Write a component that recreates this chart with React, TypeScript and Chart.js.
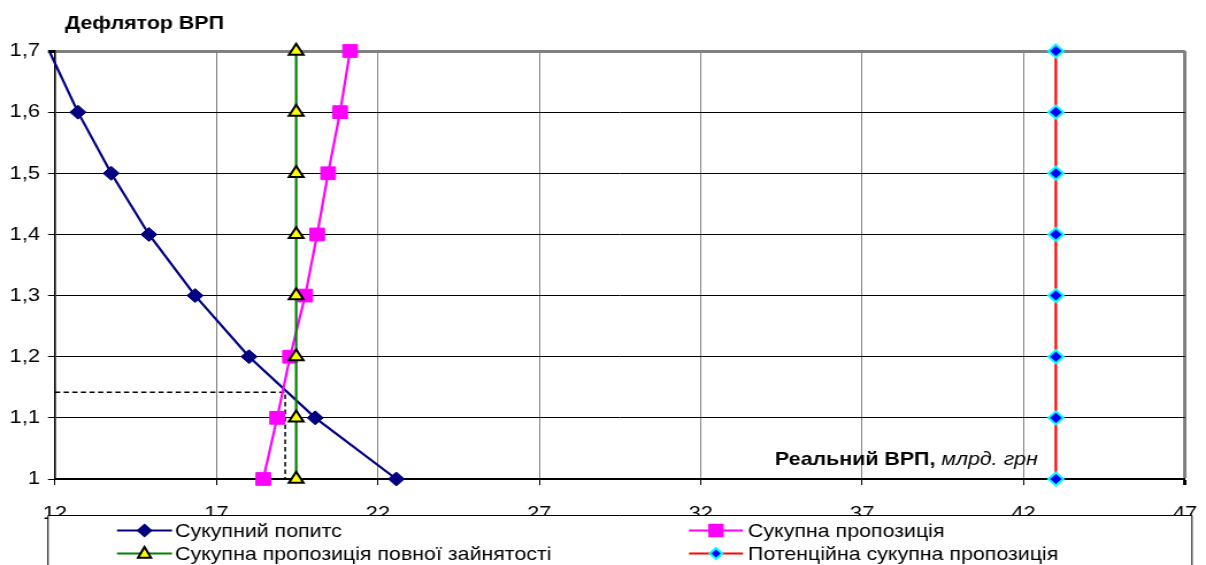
import React, { useEffect, useRef } from 'react';
import { Chart, registerables } from 'chart.js';

Chart.register(...registerables);

// ---- data ----
const priceLevels = [1.7, 1.6, 1.5, 1.4, 1.3, 1.2, 1.1, 1.0];
const aggregateDemand = [11.82, 12.71, 13.74, 14.91, 16.34, 18.01, 20.06, 22.57];
const aggregateSupply = [21.14, 20.83, 20.46, 20.12, 19.75, 19.28, 18.88, 18.45];
const fullEmploymentSupply = [19.47, 19.47, 19.47, 19.47, 19.47, 19.47, 19.47, 19.47];
const potentialSupply = [43.0, 43.0, 43.0, 43.0, 43.0, 43.0, 43.0, 43.0];
const equilibriumX = [12, 19.13, 19.13];
const equilibriumY = [1.142, 1.142, 1.0];
const xMin = 12;
const xMax = 47;
const xStep = 5;
const yMin = 1.0;
const yMax = 1.7;
const yStep = 0.1;
const seriesLabels = [
  'Сукупний попитс',
  'Сукупна пропозиція',
  'Сукупна пропозиція повної зайнятості',
  'Потенційна сукупна пропозиція',
];
const yAxisTitle = 'Дефлятор ВРП';
const xAxisTitleBold = 'Реальний ВРП,';
const xAxisTitleItalic = 'млрд. грн';

// ---- layout (output pixels) ----
const OUT_W = 1206;
const OUT_H = 565;
const IN_W = Math.round(OUT_W / 1.15);
const S = OUT_W / IN_W; // horizontal stretch of the original picture
const AREA_LEFT = 55;
const AREA_RIGHT = 1185;
const AREA_TOP = 51;
const AREA_BOTTOM = 479;
const FONT = '"Liberation Sans", Arial, sans-serif';
const FS = 19;
const FS_TEXT = 18.6;

const toPoints = (xs: number[], ys: number[]) => xs.map((x, i) => ({ x, y: ys[i] }));

function drawMarker(ctx: CanvasRenderingContext2D, kind: string, x: number, y: number) {
  ctx.save();
  if (kind === 'navyDiamond') {
    const r = 7;
    ctx.beginPath();
    ctx.moveTo(x, y - r); ctx.lineTo(x + r, y); ctx.lineTo(x, y + r); ctx.lineTo(x - r, y); ctx.closePath();
    ctx.fillStyle = '#000080'; ctx.fill();
  } else if (kind === 'square') {
    const h = 6.7;
    ctx.fillStyle = '#FF00FF';
    ctx.fillRect(x - h, y - h, 2 * h, 2 * h);
  } else if (kind === 'triangle') {
    const r = 6.5;
    ctx.beginPath();
    ctx.moveTo(x, y - r);
    ctx.lineTo(x + r * 0.866, y + r * 0.5 + 1);
    ctx.lineTo(x - r * 0.866, y + r * 0.5 + 1);
    ctx.closePath();
    ctx.fillStyle = '#FFFF00'; ctx.fill();
    ctx.strokeStyle = '#000'; ctx.lineWidth = 2; ctx.stroke();
  } else if (kind === 'cyanDiamond') {
    const r = 5.5;
    ctx.beginPath();
    ctx.moveTo(x, y - r); ctx.lineTo(x + r, y); ctx.lineTo(x, y + r); ctx.lineTo(x - r, y); ctx.closePath();
    ctx.fillStyle = '#0000FF'; ctx.fill();
    ctx.strokeStyle = '#00FFFF'; ctx.lineWidth = 2; ctx.stroke();
  }
  ctx.restore();
}

const decorPlugin = {
  id: 'decor',
  afterDraw(chart: any) {
    const ctx: CanvasRenderingContext2D = chart.ctx;
    ctx.save();
    // legend box
    const lx = 48 / S;
    const rx = 1192 / S;
    const ly = 515.5;
    ctx.fillStyle = '#fff';
    ctx.fillRect(lx, ly, rx - lx, OUT_H - ly + 5);
    ctx.strokeStyle = '#000';
    ctx.lineWidth = 1;
    ctx.beginPath();
    ctx.moveTo(lx, OUT_H + 5);
    ctx.lineTo(lx, ly);
    ctx.lineTo(rx, ly);
    ctx.lineTo(rx, OUT_H + 5);
    ctx.stroke();

    const entries = [
      { label: seriesLabels[0], color: '#000080', marker: 'navyDiamond', col: 0, row: 0 },
      { label: seriesLabels[1], color: '#FF00FF', marker: 'square', col: 1, row: 0 },
      { label: seriesLabels[2], color: '#008000', marker: 'triangle', col: 0, row: 1 },
      { label: seriesLabels[3], color: '#FF0000', marker: 'cyanDiamond', col: 1, row: 1 },
    ];
    const cols = [
      { x1: 117, x2: 172, tx: 175 },
      { x1: 689, x2: 743, tx: 748 },
    ];
    const rows = [530.5, 553.5];
    ctx.font = `${FS_TEXT}px ${FONT}`;
    ctx.textBaseline = 'middle';
    ctx.textAlign = 'left';
    entries.forEach((e) => {
      const c = cols[e.col];
      const y = rows[e.row];
      ctx.strokeStyle = e.color;
      ctx.lineWidth = 2.2;
      ctx.beginPath();
      ctx.moveTo(c.x1 / S, y);
      ctx.lineTo(c.x2 / S, y);
      ctx.stroke();
      drawMarker(ctx, e.marker, (c.x1 + c.x2) / 2 / S, y);
      ctx.fillStyle = '#000';
      ctx.fillText(e.label, c.tx / S, y + 1);
    });

    // y axis title
    ctx.textBaseline = 'alphabetic';
    ctx.fillStyle = '#000';
    ctx.font = `bold ${FS_TEXT}px ${FONT}`;
    ctx.fillText(yAxisTitle, 65 / S, 29);

    // x axis title inside plot
    const bx = 775 / S;
    ctx.font = `bold ${FS_TEXT}px ${FONT}`;
    ctx.fillText(xAxisTitleBold, bx, 465);
    const bw = ctx.measureText(xAxisTitleBold + ' ').width;
    ctx.font = `italic ${FS_TEXT}px ${FONT}`;
    ctx.fillText(xAxisTitleItalic, bx + bw, 465);
    ctx.restore();
  },
};

const near = (a: number, b: number) => Math.abs(a - b) < 1e-6;

export default function App() {
  const canvasRef = useRef<HTMLCanvasElement | null>(null);

  useEffect(() => {
    document.body.style.margin = '0';
    const canvas = canvasRef.current;
    if (!canvas) return;
    const chart = new Chart(canvas, {
      type: 'line',
      data: {
        datasets: [
          {
            label: seriesLabels[0],
            data: toPoints(aggregateDemand, priceLevels),
            borderColor: '#000080',
            backgroundColor: '#000080',
            borderWidth: 2.2,
            pointStyle: 'rectRot',
            pointRadius: priceLevels.map((_, i) => (i === 0 ? 0 : 7)),
            pointBorderWidth: 1,
            pointBorderColor: '#000080',
            pointBackgroundColor: '#000080',
            tension: 0,
            clip: false,
            order: 4,
          },
          {
            label: seriesLabels[1],
            data: toPoints(aggregateSupply, priceLevels),
            borderColor: '#FF00FF',
            backgroundColor: '#FF00FF',
            borderWidth: 2.2,
            pointStyle: 'rect',
            pointRadius: 9,
            pointBorderWidth: 1,
            pointBorderColor: '#FF00FF',
            pointBackgroundColor: '#FF00FF',
            tension: 0,
            clip: false,
            order: 3,
          },
          {
            label: seriesLabels[2],
            data: toPoints(fullEmploymentSupply, priceLevels),
            borderColor: '#008000',
            backgroundColor: '#FFFF00',
            borderWidth: 2.2,
            pointStyle: 'triangle',
            pointRadius: 7.3,
            pointBorderWidth: 2,
            pointBorderColor: '#000000',
            pointBackgroundColor: '#FFFF00',
            tension: 0,
            clip: false,
            order: 2,
          },
          {
            label: seriesLabels[3],
            data: toPoints(potentialSupply, priceLevels),
            borderColor: '#FF0000',
            backgroundColor: '#0000FF',
            borderWidth: 2.2,
            pointStyle: 'rectRot',
            pointRadius: 6.5,
            pointBorderWidth: 2,
            pointBorderColor: '#00FFFF',
            pointBackgroundColor: '#0000FF',
            tension: 0,
            clip: false,
            order: 1,
          },
          {
            label: 'equilibrium',
            data: toPoints(equilibriumX, equilibriumY),
            borderColor: '#000000',
            borderWidth: 1.5,
            borderDash: [4.5, 3],
            pointRadius: 0,
            tension: 0,
            clip: false,
            order: 5,
          },
        ],
      },
      options: {
        animation: false,
        responsive: false,
        maintainAspectRatio: false,
        devicePixelRatio: 1,
        layout: {
          padding: { left: 0, top: AREA_TOP, right: (OUT_W - AREA_RIGHT) / S, bottom: 0 },
        },
        plugins: {
          legend: { display: false },
          title: { display: false },
          tooltip: { enabled: false },
        },
        scales: {
          x: {
            type: 'linear',
            min: xMin,
            max: xMax,
            ticks: {
              stepSize: xStep,
              autoSkip: false,
              maxRotation: 0,
              color: '#000',
              padding: 17,
              font: { family: FONT, size: FS },
              callback: (v: any) => String(v),
            },
            grid: {
              color: '#808080',
              lineWidth: (c: any) => (near(c.tick?.value, xMax) ? 3 : 1),
              tickColor: '#000',
              tickLength: 6,
            },
            border: { display: true, color: '#000', width: 2 },
            afterFit: (scale: any) => {
              scale.height = OUT_H - AREA_BOTTOM;
              scale.paddingLeft = 0;
              scale.paddingRight = 0;
            },
          },
          y: {
            type: 'linear',
            min: yMin,
            max: yMax,
            ticks: {
              stepSize: yStep,
              autoSkip: false,
              color: '#000',
              padding: 7,
              font: { family: FONT, size: FS },
              callback: (v: any) => (Math.round(Number(v) * 10) / 10).toString().replace('.', ','),
            },
            grid: {
              color: (c: any) => (near(c.tick?.value, yMax) ? '#808080' : '#000000'),
              lineWidth: (c: any) => (near(c.tick?.value, yMax) ? 3 : 1),
              tickColor: '#000',
              tickLength: 7 / S,
            },
            border: { display: true, color: '#000', width: 1.6 },
            afterFit: (scale: any) => {
              scale.width = AREA_LEFT / S;
              scale.paddingTop = 0;
              scale.paddingBottom = 0;
            },
          },
        },
      },
      plugins: [decorPlugin],
    } as any);
    return () => chart.destroy();
  }, []);

  return (
    <div
      style={{
        position: 'absolute',
        left: 0,
        top: 0,
        width: `${OUT_W}px`,
        height: `${OUT_H}px`,
        overflow: 'hidden',
        background: '#fff',
      }}
    >
      <canvas
        ref={canvasRef}
        width={IN_W}
        height={OUT_H}
        style={{
          display: 'block',
          width: `${IN_W}px`,
          height: `${OUT_H}px`,
          transform: `scaleX(${S})`,
          transformOrigin: '0 0',
        }}
      />
    </div>
  );
}
